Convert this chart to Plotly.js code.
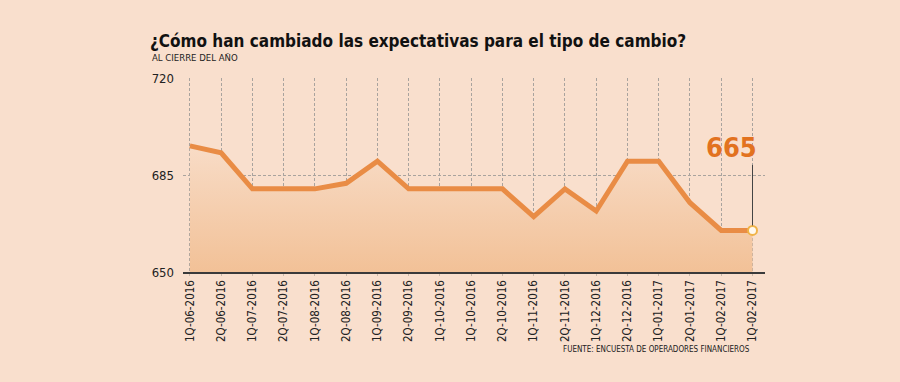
<!DOCTYPE html>
<html>
<head>
<meta charset="utf-8">
<script src="https://cdn.plot.ly/plotly-3.0.1.min.js"></script>
<style>html,body{margin:0;padding:0;background:#f9dfcd;}#chart{width:900px;height:382px;}</style>
</head>
<body>
<div id="chart"></div>
<script>
const categories = ["1Q-06-2016","2Q-06-2016","1Q-07-2016","2Q-07-2016","1Q-08-2016","2Q-08-2016","1Q-09-2016","2Q-09-2016","1Q-10-2016","1Q-10-2016","2Q-10-2016","1Q-11-2016","2Q-11-2016","1Q-12-2016","2Q-12-2016","1Q-01-2017","2Q-01-2017","1Q-02-2017","1Q-02-2017"];
const values = [695.5,693,680,680,680,682,690,680,680,680,680,670,680,672,690,690,675,665,665];
const yTicks = [650,685,720];

const xIdx = categories.map((_, i) => i);
const last = values.length - 1;
const FONT = "DejaVu Sans Condensed, DejaVu Sans, sans-serif";

const traces = [
  {
    x: xIdx, y: values, type: "scatter", mode: "lines",
    line: {color: "#e98c45", width: 5},
    fill: "tozeroy",
    fillgradient: {type: "vertical", start: 650, stop: 696,
      colorscale: [[0, "#f2c197"], [1, "#f8dcc7"]]},
    hoverinfo: "skip", showlegend: false
  },
  {
    x: [xIdx[last]], y: [values[last]], type: "scatter", mode: "markers",
    marker: {color: "#fff8ee", size: 9, line: {color: "#f0b347", width: 2}},
    showlegend: false, cliponaxis: false
  }
];

const layout = {
  width: 900, height: 382,
  paper_bgcolor: "#f9dfcd", plot_bgcolor: "#f9dfcd",
  margin: {l: 183, r: 135, t: 78, b: 110},
  font: {family: FONT, color: "#222"},
  title: {text: "<b>¿Cómo han cambiado las expectativas para el tipo de cambio?</b>",
    xref: "container", yref: "container", x: 150/900, xanchor: "left",
    y: 1 - 41/382, yanchor: "middle",
    font: {family: FONT, size: 17, color: "#111"}},
  xaxis: {
    range: [-0.22, 18.4], tickvals: xIdx, ticktext: categories,
    tickangle: -90, tickfont: {size: 11.5, color: "#222"},
    showgrid: true, gridcolor: "#a9a39e", griddash: "3px,2px", gridwidth: 1,
    showline: true, linecolor: "#3a3a3a", linewidth: 1.5,
    ticks: "outside", ticklen: 2, tickcolor: "#c9b8aa",
    zeroline: false, fixedrange: true
  },
  yaxis: {
    range: [650, 720], tickvals: yTicks, ticktext: yTicks.map(String),
    tickfont: {size: 13, color: "#222"},
    showgrid: true, gridcolor: "#a9a39e", griddash: "3px,2px", gridwidth: 1,
    showline: false, zeroline: false, ticks: "", ticklabelstandoff: 8,
    fixedrange: true
  },
  annotations: [
    {text: "AL CIERRE DEL AÑO", xref: "paper", yref: "paper",
     x: -33/582, y: 1 + 20/193, xanchor: "left", yanchor: "middle",
     showarrow: false, font: {family: FONT, size: 9.5, color: "#222"}},
    {text: "FUENTE: ENCUESTA DE OPERADORES FINANCIEROS", xref: "paper", yref: "paper",
     x: 1 - 13/582, y: -77/193, xanchor: "right", yanchor: "middle",
     showarrow: false, font: {family: FONT, size: 8, color: "#222"}},
    {text: "", x: xIdx[last], y: values[last], xref: "x", yref: "y",
     showarrow: true, arrowhead: 0, arrowwidth: 1, arrowcolor: "#444",
     ax: 0, ay: -67, standoff: 5},
    {text: "<b>" + values[last] + "</b>", x: xIdx[last], y: values[last], xref: "x", yref: "y",
     showarrow: false, xanchor: "right", yanchor: "bottom", xshift: 6, yshift: 65,
     font: {family: FONT, size: 27, color: "#e2721f"}}
  ]
};

Plotly.newPlot("chart", traces, layout, {displayModeBar: false, staticPlot: true});
</script>
</body>
</html>
